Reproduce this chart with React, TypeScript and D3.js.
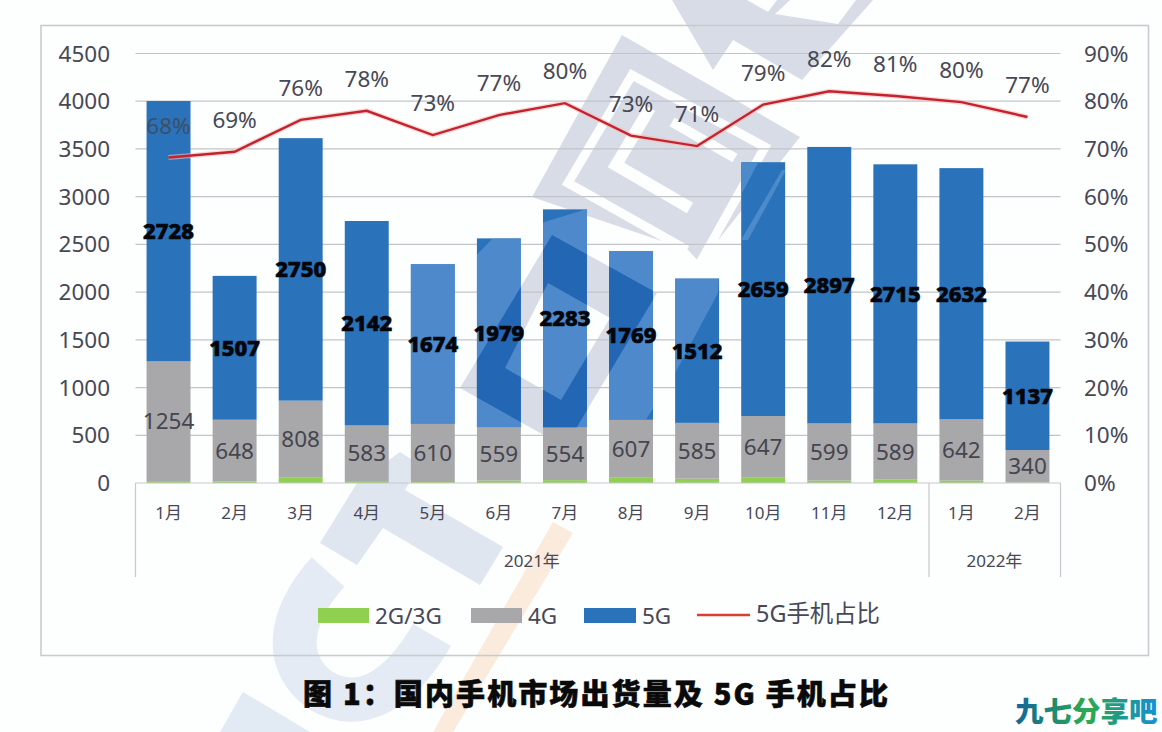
import * as d3 from "d3";

const months = ["1月", "2月", "3月", "4月", "5月", "6月", "7月", "8月", "9月", "10月", "11月", "12月", "1月", "2月"];
const low = [20, 15, 55, 20, 10, 25, 30, 55, 45, 55, 25, 35, 25, 5];
const mid = [1254, 648, 808, 583, 610, 559, 554, 607, 585, 647, 599, 589, 642, 340];
const high = [2728, 1507, 2750, 2142, 1674, 1979, 2283, 1769, 1512, 2659, 2897, 2715, 2632, 1137];
const share = [68.2, 69.4, 76.1, 78, 72.9, 77.1, 79.6, 72.8, 70.6, 79.3, 82.1, 81.1, 79.8, 76.7];
const shareLabels = ["68%", "69%", "76%", "78%", "73%", "77%", "80%", "73%", "71%", "79%", "82%", "81%", "80%", "77%"];
const leftTicks = [0, 500, 1000, 1500, 2000, 2500, 3000, 3500, 4000, 4500];
const rightTicks = [0, 10, 20, 30, 40, 50, 60, 70, 80, 90];
const years = [
  { label: "2021年", from: 0, to: 11 },
  { label: "2022年", from: 12, to: 13 },
];

const W = 1162;
const H = 732;
const uiFont = "'Noto Sans', 'Noto Sans CJK SC', sans-serif";
const cjkFont = "'Noto Sans CJK SC', 'Noto Sans', sans-serif";
const textCol = "#474856";

// watermark pieces behind the chart
const wmGrey = "#d7dce7";
const ringPath =
  "M552,235L657,293L565,447L460,388Z M548,283L610,318L561,400L505,368Z";

export default function App() {
  const idx = months.map((_, i) => i);
  const x = d3.scaleBand<number>().domain(idx).range([135.5, 1060.5]).paddingInner(0.335).paddingOuter(0.1675);
  const y = d3.scaleLinear().domain([0, 4500]).range([483, 53.5]);
  const y2 = d3.scaleLinear().domain([0, 90]).range([483, 53.5]);
  const cx = (i: number) => (x(i) ?? 0) + x.bandwidth() / 2;

  const rows = idx.map((i) => ({ i, low: low[i], mid: mid[i], high: high[i] }));
  const stacked = d3.stack<{ i: number; low: number; mid: number; high: number }>().keys(["low", "mid", "high"])(rows);
  const colors = ["#90d050", "#a8a8aa", "#2a72ba"];

  const line = d3
    .line<number>()
    .x((_, i) => cx(i))
    .y((d) => y2(d));
  const linePath = line(share) ?? "";

  const legendSwatch = [
    { label: "2G/3G", x: 318, color: colors[0], w: 51 },
    { label: "4G", x: 471, color: colors[1], w: 51 },
    { label: "5G", x: 584, color: colors[2], w: 52 },
  ];

  return (
    <svg
      width={W}
      height={H}
      viewBox={`0 0 ${W} ${H}`}
      style={{ position: "absolute", left: 0, top: 0, background: "#fdfefe" }}
    >
      <defs>
        <clipPath id="topBars">
          {stacked[2].map((d) => (
            <rect key={d.data.i} x={x(d.data.i)} y={y(d[1])} width={x.bandwidth()} height={y(d[0]) - y(d[1])} />
          ))}
        </clipPath>
        <linearGradient id="logoFill" x1="0" x2="1" y1="0" y2="0">
          <stop offset="0" stopColor="#14649a" />
          <stop offset="0.3" stopColor="#1f8f6e" />
          <stop offset="0.5" stopColor="#2eaa4e" />
          <stop offset="0.72" stopColor="#1f9a86" />
          <stop offset="1" stopColor="#1590d8" />
        </linearGradient>
      </defs>

      {/* watermark */}
      <g>
        <polygon points="672,0 713,70 733,40 802,80 873,0" fill={wmGrey} />
        <polygon points="747,0 768,12 777,0" fill="#fdfefe" />
        <polygon points="775,14 838,24 856,0 790,0" fill="#fdfefe" />
        <polygon points="622,35 800,137 700,263 688,250 532,197" fill={wmGrey} />
        <path d="M687,250L568,183L632,75L765,147L700,263" fill="none" stroke="#fdfefe" strokeWidth={9} />
        <path d="M650,108L616,165L690,208" fill="none" stroke="#fdfefe" strokeWidth={12} />
        <path d="M672,122L735,158" fill="none" stroke="#fdfefe" strokeWidth={10} />
        <path fillRule="evenodd" d={ringPath} fill={wmGrey} />
        <polygon points="357,483 320,543 357,565 383,528 480,585 503,547 405,490 420,465 400,452" fill="#e0e6f0" />
        <path d="M328,572C285,620 285,665 320,690C360,715 400,690 432,635" fill="none" stroke="#e5ebf4" strokeWidth={44} />
        <polygon points="220,732 243,692 310,732" fill="#e2eaf4" />
        <polygon points="553,522 573,533 453,732 433,732" fill="#fbebdc" />
      </g>

      {/* frame */}
      <rect x={41} y={25.5} width={1107.5} height={630} fill="none" stroke="#c9cbd0" strokeWidth={1.6} />

      {/* grid */}
      {leftTicks.slice(1).map((t) => (
        <line key={t} x1={135.5} x2={1060.5} y1={y(t)} y2={y(t)} stroke="#c3c4c9" strokeWidth={1.2} />
      ))}

      {/* bars */}
      {stacked.map((s, k) => (
        <g key={k} fill={colors[k]}>
          {s.map((d) => (
            <rect key={d.data.i} x={x(d.data.i)} y={y(d[1])} width={x.bandwidth()} height={y(d[0]) - y(d[1])} />
          ))}
        </g>
      ))}

      {/* watermark showing through the 5G bars */}
      <g clipPath="url(#topBars)">
        <polygon points="405,262 470,262 493,238 600,205 720,250 718,293 673,377 633,440 405,440" fill="#5b93d0" opacity={0.75} />
        <polygon points="741,163 758,163 741,195" fill="#4b8acb" />
        <polygon points="786,170 748,240 741,240 782,170" fill="#4b8acb" />
        <path fillRule="evenodd" d={ringPath} fill="#2266b4" />
      </g>

      {/* axes */}
      <g stroke="#c6c8cd" strokeWidth={1.2} fill="none">
        <line x1={135.5} x2={1060.5} y1={483} y2={483} />
        <line x1={135.5} x2={135.5} y1={483} y2={577} />
        <line x1={929} x2={929} y1={483} y2={577} />
        <line x1={1060.5} x2={1060.5} y1={483} y2={577} />
      </g>

      {leftTicks.map((t) => (
        <text key={t} x={110} y={y(t)} dy="0.36em" textAnchor="end" fontFamily={uiFont} fontSize={22.5} fill={textCol}>
          {t}
        </text>
      ))}
      {rightTicks.map((t) => (
        <text key={t} x={1084} y={y2(t)} dy="0.36em" fontFamily={uiFont} fontSize={22.5} fill={textCol}>
          {t}%
        </text>
      ))}

      {months.map((m, i) => (
        <text key={i} x={cx(i)} y={513} dy="0.36em" textAnchor="middle" fontFamily={uiFont} fontSize={17} fill={textCol}>
          {m}
        </text>
      ))}
      {years.map((yr) => (
        <text
          key={yr.label}
          x={((x(yr.from) ?? 0) + (x(yr.to) ?? 0) + x.bandwidth()) / 2}
          y={561}
          dy="0.36em"
          textAnchor="middle"
          fontFamily={uiFont}
          fontSize={17}
          fill={textCol}
        >
          {yr.label}
        </text>
      ))}

      {/* share line */}
      <path d={linePath} fill="none" stroke="#f6bcbc" strokeWidth={5} opacity={0.6} />
      <path d={linePath} fill="none" stroke="#c4232d" strokeWidth={2.4} />
      {shareLabels.map((l, i) => (
        <text key={i} x={cx(i)} y={y2(share[i]) - 32} dy="0.36em" textAnchor="middle" fontFamily={uiFont} fontSize={22.5} fill={i === 0 ? "#3d4f68" : textCol}>
          {l}
        </text>
      ))}

      {/* value labels */}
      {stacked[1].map((d) => (
        <text key={d.data.i} x={cx(d.data.i)} y={y((d[0] + d[1]) / 2)} dy="0.36em" textAnchor="middle" fontFamily={uiFont} fontSize={22.5} fill="#45454f">
          {d.data.mid}
        </text>
      ))}
      {stacked[2].map((d) => (
        <text
          key={d.data.i}
          x={cx(d.data.i)}
          y={y((d[0] + d[1]) / 2)}
          dy="0.36em"
          textAnchor="middle"
          fontFamily={uiFont}
          fontSize={22}
          fontWeight={800}
          fill="#04060c"
          stroke="#04060c"
          strokeWidth={0.7}
        >
          {d.data.high}
        </text>
      ))}

      {/* legend */}
      {legendSwatch.map((s) => (
        <g key={s.label}>
          <rect x={s.x} y={608} width={s.w} height={15} fill={s.color} />
          <text x={s.x + s.w + 6} y={616} dy="0.36em" fontFamily={uiFont} fontSize={22.5} fill={textCol}>
            {s.label}
          </text>
        </g>
      ))}
      <line x1={697} x2={750} y1={615} y2={615} stroke="#d8412f" strokeWidth={2.4} />
      <text x={756} y={614} dy="0.36em" fontFamily={uiFont} fontSize={23.4} fill={textCol}>
        5G手机占比
      </text>

      {/* caption */}
      <text
        x={303}
        y={695}
        dy="0.36em"
        fontFamily={cjkFont}
        fontSize={29}
        fontWeight={900}
        fill="#0a0a0a"
        stroke="#0a0a0a"
        strokeWidth={0.6}
        textLength={585}
        lengthAdjust="spacing"
      >
        图 1：国内手机市场出货量及 5G 手机占比
      </text>
      <text x={1015} y={712} dy="0.36em" fontFamily={cjkFont} fontSize={28.5} fontWeight={900} fill="url(#logoFill)">
        九七分享吧
      </text>
    </svg>
  );
}
